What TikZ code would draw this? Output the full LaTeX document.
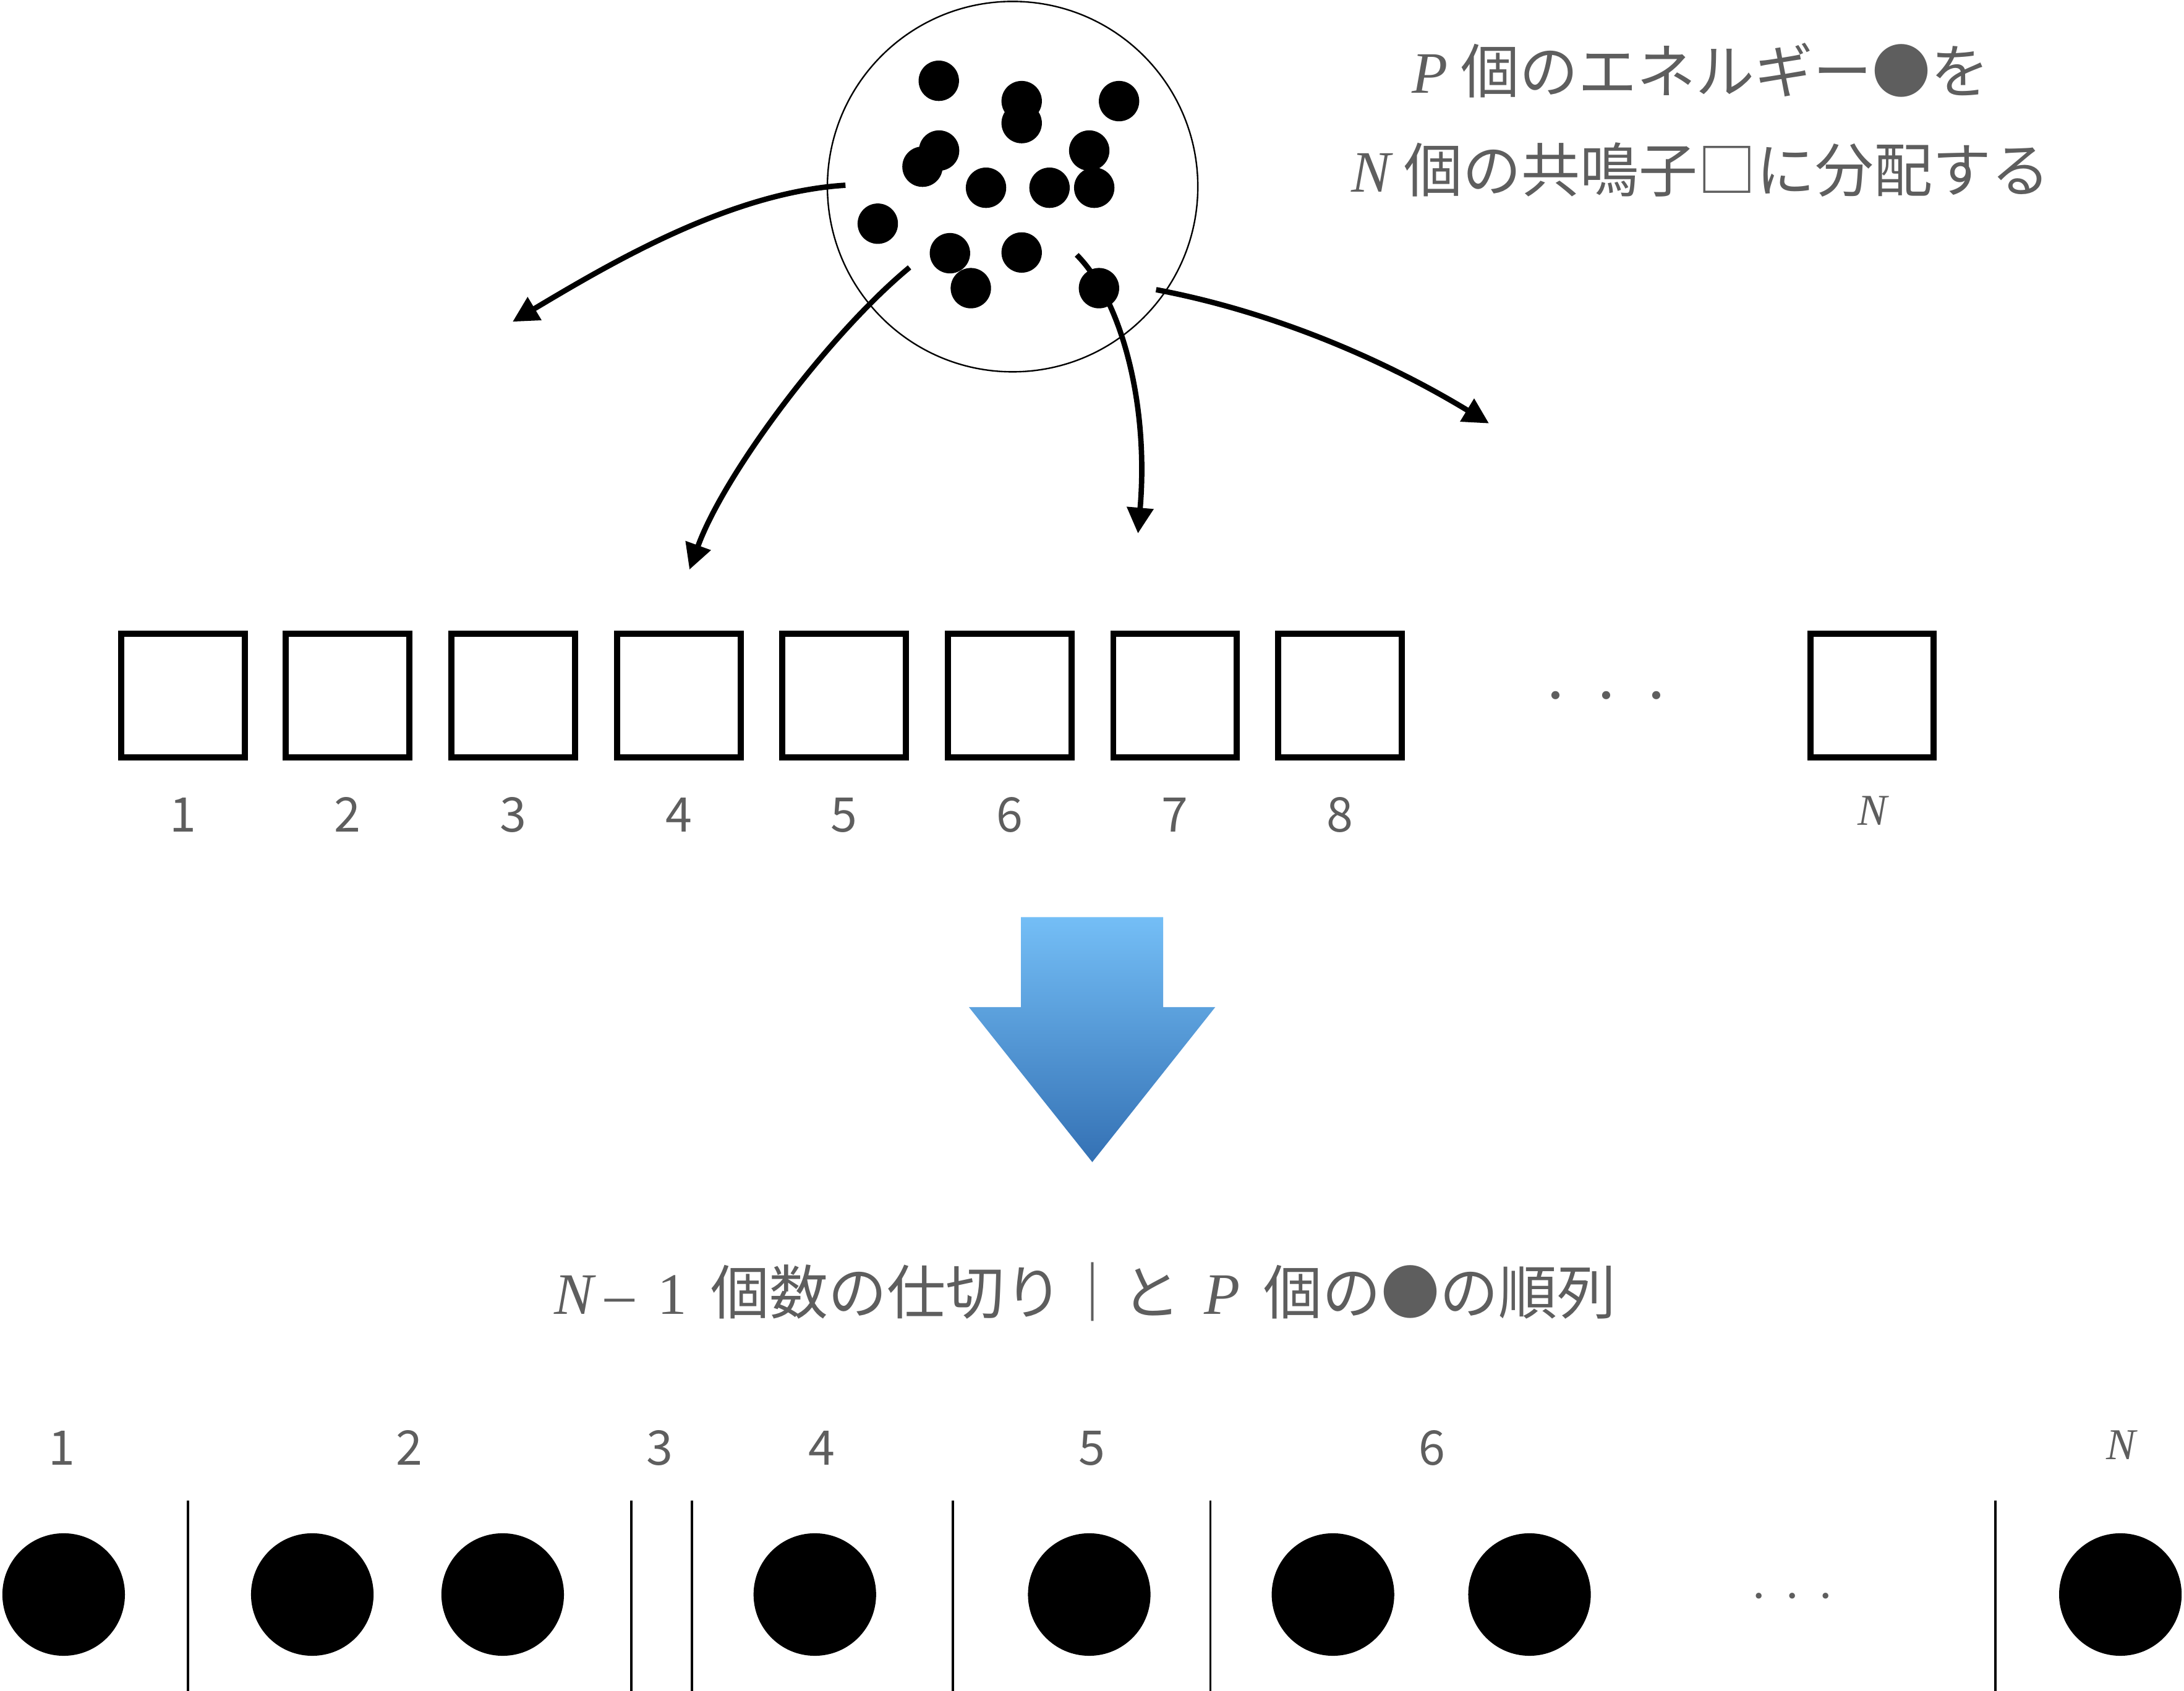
\documentclass[tikz,border=0pt]{standalone}
\usepackage{fontspec}
\usepackage{xcolor}
\usetikzlibrary{arrows.meta}
\newfontfamily\jpfont{Noto Sans CJK JP}
\newfontfamily\tmsfont{Liberation Serif}
\definecolor{txtgray}{RGB}{94,94,94}
\definecolor{arrtop}{RGB}{116,190,246}
\definecolor{arrbot}{RGB}{52,113,180}
\tikzset{
	oscil/.style={
		draw,
		line width=2.5pt,
		minimum size=1.772cm,
		inner sep=0
	},
	quantum/.style={circle, fill, inner sep=0, minimum size=0.58cm},
	bigquantum/.style={circle, fill, inner sep=0, minimum size=1.76cm}
}

\begin{document}
\begin{tikzpicture}[x=0.02cm,y=-0.02cm,
	flow/.style={line width=2.2pt,-{Triangle[length=10.5pt,width=10.5pt]}},
	num/.style={text=txtgray,anchor=base,inner sep=0,font=\jpfont\fontsize{19.5pt}{0}\selectfont},
	numN/.style={text=txtgray,anchor=base,inner sep=0,font=\tmsfont\itshape\fontsize{18pt}{0}\selectfont},
	caption/.style={text=txtgray,anchor=base,inner sep=0,font=\jpfont\fontsize{24pt}{0}\selectfont}]
	\useasboundingbox (0,0) rectangle (1568,1214);

	% energy pool
	\node[draw,circle,line width=0.6pt,minimum size=5.32cm,inner sep=0] (pool) at (727,134) {};
	\foreach \x/\y [count=\i] in {674/58, 733.5/72.6, 733.5/88.4, 803.4/72.6, 674.2/108.1, 662.3/119.7, 782/108.1, 707.9/134.8, 753.5/134.8, 785.6/134.8, 630.2/160.6, 682/181.8, 733.5/181.3, 697/206.9, 789/206.9}
		\node[quantum] (q\i) at (\x,\y) {};

	\node[caption] (t1) at (1221,66.6) {{\tmsfont\itshape P} 個のエネルギー●を};
	\node[caption] (t2) at (1221,137.9) {{\tmsfont\itshape N} 個の共鳴子□に分配する};

	% distribution arrows
	\coordinate (s1) at (607,133);   \coordinate (e1) at (368,231);
	\coordinate (s2) at (653,192);   \coordinate (e2) at (495,409);
	\coordinate (s3) at (773,183);   \coordinate (e3) at (817,383);
	\coordinate (s4) at (830,208);   \coordinate (e4) at (1069,304);
	\draw[flow] (s1) .. controls (525,138) and (440,188) .. (e1);
	\draw[flow] (s2) .. controls (595,240) and (520,340) .. (e2);
	\draw[flow] (s3) .. controls (805,215) and (825,290) .. (e3);
	\draw[flow] (s4) .. controls (920,225) and (1000,262) .. (e4);

	% oscillators
	\foreach \x [count=\i] in {131.5,249.5,368.4,487.5,606,725,843.6,962}{
		\node[oscil] (r\i) at (\x,499.4) {};
		\node[num] (l\i) at (\x,597.4) {\i};
	}
	\node[oscil] (rN) at (1344,499.4) {};
	\node[numN] (lN) at (1344.4,592.6) {N};
	\node[text=txtgray,anchor=base,inner sep=0,font=\tmsfont\fontsize{28pt}{0}\selectfont] (dots1) at (1153.2,515.5) {·\hspace{0.394cm}·\hspace{0.394cm}·};

	% big arrow
	\shade[top color=arrtop,bottom color=arrbot] (733,658.5) -- (835.1,658.5) -- (835.1,723.1) -- (872.5,723.1) -- (784.2,834.4) -- (695.6,723.1) -- (733,723.1) -- cycle;

	\node[caption] (t3) at (779,943.4) {{\tmsfont\itshape N}\hspace{0.2em}{\tmsfont –}\hspace{0.4em}{\tmsfont 1}\hspace{0.4em}個数の仕切り｜と\hspace{0.4em}{\tmsfont\itshape P}\hspace{0.4em}個の●の順列};

	% permutation
	\foreach \x in {134.8,453.4,496.9,684,869,1432.7}
		\draw[line width=1pt] (\x,1077.3) -- (\x,1214);
	\foreach \x [count=\i] in {45.7,224.2,360.9,585,782,957,1098.1}
		\node[bigquantum] (b\i) at (\x,1144.9) {};
	\node[bigquantum] (bN) at (1522.3,1144.9) {};
	\foreach \x/\n in {44.2/1,293.8/2,473.8/3,590/4,784/5,1028/6}
		\node[num] (m\n) at (\x,1051.8) {\n};
	\node[numN] (mN) at (1523,1047.7) {N};
	\node[text=txtgray,anchor=base,inner sep=0,font=\tmsfont\fontsize{20pt}{0}\selectfont] (dots2) at (1286.9,1157.5) {·\hspace{0.244cm}·\hspace{0.244cm}·};

\end{tikzpicture}
\end{document}
